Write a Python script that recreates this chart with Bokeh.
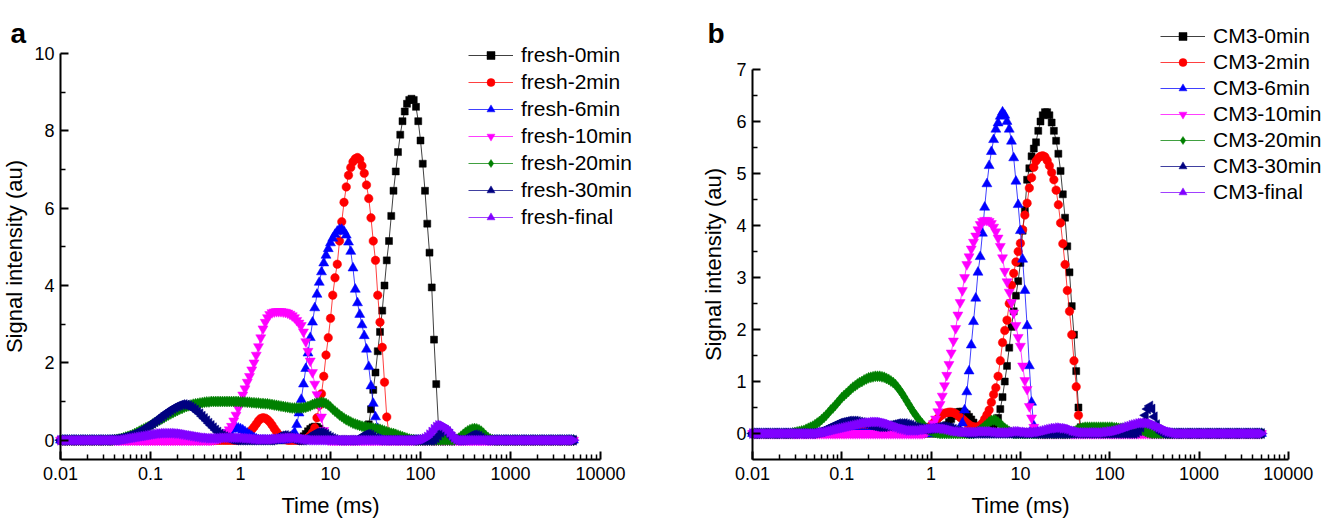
from math import pi
from bokeh.plotting import figure
from bokeh.models import FixedTicker, Label, Legend, LegendItem, Range1d
from bokeh.layouts import row
from bokeh.embed import file_html
from bokeh.resources import INLINE

FONT = "Liberation Sans"

# ---- T2 sampling grid (40 points per decade, 0.01 ... 5012 ms) ----
T2_MANTISSAS = [1.000, 1.059, 1.122, 1.189, 1.259, 1.334, 1.413, 1.496, 1.585, 1.679,
                1.778, 1.884, 1.995, 2.113, 2.239, 2.371, 2.512, 2.661, 2.818, 2.985,
                3.162, 3.350, 3.548, 3.758, 3.981, 4.217, 4.467, 4.732, 5.012, 5.309,
                5.623, 5.957, 6.310, 6.683, 7.079, 7.499, 7.943, 8.414, 8.913, 9.441]
T2_DECADES = [0.01, 0.1, 1, 10, 100, 1000]
T2_LAST = 5012.0

X_TICKS = [0.01, 0.1, 1, 10, 100, 1000, 10000]
X_TICK_LABELS = ["0.01", "0.1", "1", "10", "100", "1000", "10000"]
X_MINOR_FACTORS = [2, 3, 4, 5, 6, 7, 8, 9]

# ---- series: (start index on grid, values); signal is 0 elsewhere ----
LABELS_A = ["fresh-0min", "fresh-2min", "fresh-6min", "fresh-10min", "fresh-20min", "fresh-30min", "fresh-final"]
LABELS_B = ["CM3-0min", "CM3-2min", "CM3-6min", "CM3-10min", "CM3-20min", "CM3-30min", "CM3-final"]

FRESH_0MIN = [
    (106, [0.02, 0.05, 0.10, 0.16, 0.23, 0.29, 0.33, 0.35, 0.34, 0.30, 0.24, 0.17, 0.10, 0.05, 0.02]),
    (135, [0.02, 0.12, 0.41, 0.80, 1.30, 1.75, 2.30, 2.80, 3.35, 4.00, 4.65, 5.15, 5.80, 6.45, 6.95,
           7.45, 7.90, 8.25, 8.50, 8.70, 8.80, 8.83, 8.80, 8.62, 8.25, 7.75, 7.15, 6.45, 5.60, 4.85,
           3.95, 2.60, 1.45, 0.35, 0.05]),
]
FRESH_2MIN = [
    (80, [0.02, 0.05, 0.09, 0.14, 0.20, 0.27, 0.34, 0.42, 0.50, 0.56, 0.58, 0.57, 0.53, 0.47, 0.39,
          0.30, 0.22, 0.14, 0.08, 0.04, 0.02]),
    (108, [0.01, 0.03, 0.06, 0.12, 0.20, 0.32, 0.58, 0.90, 1.20, 1.65, 2.20, 2.65, 3.15, 3.75, 4.20,
           4.55, 5.15, 5.65, 6.15, 6.55, 6.85, 7.05, 7.20, 7.28, 7.31, 7.26, 7.10, 6.90, 6.60, 6.25,
           5.75, 5.15, 4.65, 3.75, 3.05, 2.40, 1.50, 0.60, 0.15, 0.03]),
]
FRESH_6MIN = [
    (70, [0.03, 0.06, 0.10, 0.14, 0.19, 0.24, 0.28, 0.31, 0.32, 0.31, 0.29, 0.26, 0.22, 0.18, 0.14,
          0.10, 0.06, 0.03, 0.01]),
    (101, [0.02, 0.06, 0.12, 0.20, 0.40, 0.70, 1.05, 1.45, 1.85, 2.25, 2.65, 3.05, 3.42, 3.77, 4.08,
           4.35, 4.58, 4.78, 4.95, 5.10, 5.22, 5.32, 5.40, 5.45, 5.45, 5.40, 5.30, 5.12, 4.88, 4.45,
           3.90, 3.55, 3.25, 2.98, 2.70, 2.35, 1.90, 1.40, 0.95, 0.60, 0.30, 0.12, 0.03]),
]
FRESH_10MIN = [
    (68, [0.01, 0.02, 0.04, 0.06, 0.10, 0.14, 0.20, 0.27, 0.36, 0.50, 0.65, 0.82, 1.00, 1.17, 1.33,
          1.50, 1.65, 1.82, 2.00, 2.20, 2.42, 2.65, 2.88, 3.05, 3.17, 3.25, 3.30, 3.32, 3.33, 3.33,
          3.33, 3.32, 3.31, 3.29, 3.26, 3.22, 3.17, 3.10, 3.03, 2.97, 2.80, 2.55, 2.30, 2.05, 1.75,
          1.45, 1.18, 0.90, 0.60, 0.25, 0.07, 0.01]),
]
FRESH_20MIN = [
    (24, [0.01, 0.02, 0.03, 0.04, 0.06, 0.08, 0.10, 0.12, 0.14, 0.17, 0.20, 0.23, 0.26, 0.29, 0.32,
          0.35, 0.38, 0.42, 0.45, 0.49, 0.52, 0.55, 0.58, 0.62, 0.65, 0.68, 0.71, 0.74, 0.77, 0.80,
          0.82, 0.85, 0.87, 0.89, 0.91, 0.93, 0.94, 0.95, 0.96, 0.97, 0.98, 0.99, 0.99, 1.00, 1.00,
          1.00, 1.00, 1.00, 1.00, 1.00, 1.00, 1.00, 1.00, 1.00, 1.00, 1.00, 0.99, 0.99, 0.99, 0.98,
          0.98, 0.97, 0.97, 0.96, 0.96, 0.95, 0.95, 0.94, 0.94, 0.93, 0.92, 0.91, 0.90, 0.89, 0.88,
          0.87, 0.86, 0.85, 0.84, 0.83, 0.83, 0.83, 0.83, 0.83, 0.84, 0.85, 0.87, 0.89, 0.92, 0.94,
          0.96, 0.97, 0.98, 0.97, 0.95, 0.91, 0.86, 0.80, 0.75, 0.70, 0.65, 0.61, 0.57, 0.53, 0.50,
          0.47, 0.44, 0.42, 0.40, 0.38, 0.36, 0.35, 0.34, 0.33, 0.32, 0.31, 0.30, 0.29, 0.28, 0.26,
          0.24, 0.22, 0.20, 0.18, 0.17, 0.15, 0.13, 0.11, 0.09, 0.07, 0.05, 0.03, 0.02, 0.01]),
    (176, [0.02, 0.05, 0.10, 0.15, 0.20, 0.24, 0.27, 0.29, 0.30, 0.29, 0.27, 0.23, 0.18, 0.12, 0.07,
           0.03, 0.01]),
]
FRESH_30MIN = [
    (22, [0.01, 0.02, 0.02, 0.03, 0.04, 0.05, 0.07, 0.08, 0.10, 0.12, 0.14, 0.16, 0.19, 0.22, 0.25,
          0.28, 0.32, 0.36, 0.40, 0.44, 0.48, 0.52, 0.57, 0.61, 0.66, 0.70, 0.74, 0.78, 0.82, 0.85,
          0.88, 0.90, 0.92, 0.92, 0.91, 0.89, 0.86, 0.82, 0.78, 0.73, 0.68, 0.62, 0.56, 0.50, 0.44,
          0.38, 0.32, 0.26, 0.21, 0.16, 0.12, 0.09, 0.06, 0.04, 0.02, 0.01]),
    (95, [0.02, 0.05, 0.08, 0.11, 0.12, 0.12, 0.10, 0.07, 0.04, 0.02]),
    (109, [0.02, 0.05, 0.09, 0.13, 0.17, 0.19, 0.20, 0.20, 0.18, 0.15, 0.11, 0.07, 0.04, 0.02]),
    (132, [0.02, 0.05, 0.09, 0.13, 0.15, 0.15, 0.13, 0.09, 0.05, 0.02]),
    (166, [0.02, 0.06, 0.13, 0.20, 0.25, 0.26, 0.22, 0.15, 0.08, 0.03]),
    (180, [0.02, 0.06, 0.10, 0.13, 0.14, 0.13, 0.10, 0.06, 0.02]),
]
FRESH_FINAL = [
    (28, [0.01, 0.02, 0.03, 0.04, 0.05, 0.06, 0.07, 0.08, 0.09, 0.10, 0.11, 0.12, 0.13, 0.14, 0.15,
          0.16, 0.17, 0.17, 0.18, 0.18, 0.18, 0.18, 0.18, 0.18, 0.17, 0.17, 0.16, 0.15, 0.14, 0.13,
          0.12, 0.11, 0.10, 0.09, 0.08, 0.07, 0.06, 0.06, 0.05, 0.05, 0.05, 0.05, 0.05, 0.05, 0.06,
          0.06, 0.06, 0.06, 0.06, 0.06, 0.06, 0.06, 0.06, 0.06, 0.05, 0.05, 0.04, 0.04, 0.03, 0.03,
          0.02, 0.02, 0.02, 0.02, 0.02, 0.02, 0.02, 0.03, 0.03, 0.04, 0.04, 0.05, 0.05, 0.06, 0.06,
          0.06, 0.06, 0.05, 0.05, 0.04, 0.03, 0.02, 0.02, 0.01]),
    (160, [0.01, 0.02, 0.04, 0.08, 0.14, 0.21, 0.28, 0.34, 0.38, 0.39, 0.37, 0.33, 0.27, 0.20, 0.13,
           0.07, 0.03, 0.01]),
]

CM3_0MIN = [
    (84, [0.02, 0.05, 0.10, 0.16, 0.22, 0.28, 0.34, 0.38, 0.41, 0.42, 0.42, 0.40, 0.37, 0.32, 0.27,
          0.21, 0.15, 0.10, 0.07, 0.05, 0.04, 0.04, 0.05, 0.08, 0.12, 0.20, 0.30, 0.47, 0.70, 1.00,
          1.30, 1.65, 2.05, 2.35, 2.65, 2.93, 3.28, 3.90, 4.30, 4.88, 5.10, 5.33, 5.48, 5.60, 5.82,
          6.00, 6.12, 6.18, 6.18, 6.12, 5.98, 5.82, 5.63, 5.38, 5.05, 4.60, 4.15, 3.60, 3.10, 2.45,
          1.90, 1.20, 0.50, 0.12, 0.02]),
]
CM3_2MIN = [
    (43, [0.01, 0.02, 0.03, 0.05, 0.07, 0.08, 0.10, 0.11, 0.12, 0.12, 0.13, 0.13, 0.13, 0.13, 0.13,
          0.12, 0.12, 0.11, 0.10, 0.09, 0.07, 0.06, 0.05, 0.04, 0.03, 0.02, 0.01, 0.01, 0.01, 0.01,
          0.02, 0.03, 0.04, 0.05, 0.07, 0.09, 0.12, 0.15, 0.20, 0.25, 0.29, 0.33, 0.36, 0.39, 0.40,
          0.41, 0.41, 0.40, 0.38, 0.35, 0.31, 0.28, 0.24, 0.20, 0.17, 0.14, 0.13, 0.12, 0.13, 0.15,
          0.20, 0.28, 0.36, 0.45, 0.60, 0.75, 0.88, 1.10, 1.40, 1.75, 1.98, 2.18, 2.50, 2.85, 3.08,
          3.30, 3.50, 3.66, 3.92, 4.20, 4.43, 4.72, 4.92, 5.12, 5.24, 5.30, 5.33, 5.34, 5.32, 5.25,
          5.15, 5.02, 4.88, 4.68, 4.40, 4.05, 3.65, 3.25, 2.75, 2.35, 1.90, 1.40, 0.90, 0.35, 0.08,
          0.01]),
]
CM3_6MIN = [
    (93, [0.05, 0.20, 0.45, 0.80, 1.20, 1.70, 2.15, 2.60, 3.10, 3.40, 3.85, 4.35, 4.80, 5.15, 5.42,
          5.65, 5.85, 5.97, 6.10, 6.18, 6.12, 6.00, 5.85, 5.62, 5.30, 4.85, 4.40, 3.90, 3.35, 2.75,
          2.07, 1.30, 0.60, 0.15, 0.02]),
    (176, [0.02, 0.06, 0.10, 0.06, 0.02]),
]
CM3_10MIN = [
    (77, [0.01, 0.03, 0.07, 0.12, 0.19, 0.28, 0.42, 0.56, 0.72, 0.92, 1.12, 1.33, 1.55, 1.78, 2.02,
          2.28, 2.52, 2.75, 3.00, 3.25, 3.40, 3.55, 3.68, 3.80, 3.92, 4.02, 4.08, 4.10, 4.10, 4.08,
          4.04, 3.97, 3.88, 3.76, 3.60, 3.38, 3.12, 2.92, 2.72, 2.52, 2.32, 2.08, 1.85, 1.68, 1.30,
          1.02, 0.85, 0.52, 0.30, 0.12, 0.03]),
]
CM3_20MIN = [
    (18, [0.01, 0.02, 0.03, 0.04, 0.05, 0.06, 0.08, 0.10, 0.12, 0.14, 0.17, 0.20, 0.23, 0.27, 0.31,
          0.35, 0.40, 0.45, 0.49, 0.54, 0.59, 0.64, 0.69, 0.73, 0.77, 0.81, 0.85, 0.89, 0.92, 0.95,
          0.98, 1.00, 1.03, 1.05, 1.07, 1.08, 1.09, 1.10, 1.10, 1.10, 1.09, 1.08, 1.06, 1.04, 1.01,
          0.98, 0.94, 0.89, 0.83, 0.77, 0.70, 0.63, 0.56, 0.49, 0.42, 0.36, 0.30, 0.24, 0.19, 0.14,
          0.10, 0.07, 0.05, 0.03, 0.02, 0.01]),
    (100, [0.02, 0.04, 0.07, 0.10, 0.14, 0.18, 0.22, 0.25, 0.26, 0.25, 0.22, 0.18, 0.14, 0.10, 0.07,
           0.04, 0.02]),
    (143, [0.02, 0.04, 0.06, 0.08, 0.10, 0.11, 0.12, 0.12, 0.12, 0.12, 0.12, 0.12, 0.12, 0.12, 0.12,
           0.12, 0.12, 0.12, 0.12, 0.11, 0.11, 0.10, 0.10, 0.10, 0.10, 0.11, 0.12, 0.13, 0.13, 0.12,
           0.10, 0.08, 0.06, 0.04, 0.02, 0.01]),
]
CM3_30MIN = [
    (28, [0.01, 0.02, 0.03, 0.04, 0.06, 0.08, 0.10, 0.12, 0.14, 0.16, 0.18, 0.20, 0.21, 0.22, 0.23,
          0.24, 0.24, 0.24, 0.24, 0.23, 0.22, 0.21, 0.20, 0.19, 0.17, 0.16, 0.15, 0.14, 0.13, 0.13,
          0.13, 0.13, 0.14, 0.15, 0.16, 0.17, 0.18, 0.19, 0.19, 0.19, 0.19, 0.18, 0.17, 0.16, 0.14,
          0.12, 0.11, 0.10, 0.09, 0.08, 0.08, 0.08, 0.09, 0.10, 0.11, 0.12, 0.13, 0.13, 0.13, 0.12,
          0.11, 0.10, 0.08, 0.06, 0.05, 0.03, 0.02, 0.01]),
    (172, [0.02, 0.05, 0.12, 0.22, 0.35, 0.47, 0.53, 0.47, 0.32, 0.17, 0.07, 0.02]),
]
CM3_FINAL = [
    (30, [0.01, 0.02, 0.02, 0.03, 0.04, 0.05, 0.06, 0.07, 0.08, 0.09, 0.10, 0.11, 0.12, 0.13, 0.14,
          0.15, 0.16, 0.17, 0.18, 0.19, 0.20, 0.20, 0.21, 0.21, 0.22, 0.22, 0.22, 0.22, 0.21, 0.20,
          0.19, 0.18, 0.16, 0.15, 0.13, 0.12, 0.10, 0.09, 0.08, 0.07, 0.06, 0.06, 0.06, 0.06, 0.06,
          0.06, 0.07, 0.07, 0.08, 0.09, 0.09, 0.10, 0.10, 0.10, 0.10, 0.09, 0.09, 0.08, 0.07, 0.06,
          0.05, 0.04, 0.04, 0.03, 0.03, 0.03, 0.03, 0.03, 0.03, 0.03, 0.03, 0.03, 0.04, 0.04, 0.04,
          0.04, 0.04, 0.04, 0.03, 0.03, 0.02, 0.02, 0.02, 0.02, 0.02, 0.02, 0.03, 0.03, 0.04, 0.04,
          0.04, 0.03, 0.03, 0.02, 0.02, 0.02, 0.02, 0.03, 0.03, 0.04, 0.05, 0.06, 0.07, 0.08, 0.09,
          0.10, 0.10, 0.11, 0.11, 0.10, 0.10, 0.09, 0.08, 0.06, 0.05, 0.04, 0.03, 0.02, 0.02, 0.02,
          0.02, 0.02, 0.02, 0.02, 0.02, 0.02, 0.02, 0.02, 0.03, 0.03, 0.04, 0.04, 0.05, 0.06, 0.07,
          0.08, 0.10, 0.11, 0.13, 0.14, 0.16, 0.17, 0.18, 0.19, 0.20, 0.20, 0.20, 0.20, 0.19, 0.18,
          0.16, 0.14, 0.12, 0.10, 0.08, 0.06, 0.04, 0.03, 0.02, 0.01]),
]

SERIES_A = [FRESH_0MIN, FRESH_2MIN, FRESH_6MIN, FRESH_10MIN, FRESH_20MIN, FRESH_30MIN, FRESH_FINAL]
SERIES_B = [CM3_0MIN, CM3_2MIN, CM3_6MIN, CM3_10MIN, CM3_20MIN, CM3_30MIN, CM3_FINAL]

COLORS = ["#000000", "#FF0000", "#0000FF", "#FF00FF", "#008000", "#000080", "#8000FF"]
MARKERS = [("square", 0.0, 7), ("circle", 0.0, 8.5), ("triangle", 0.0, 10),
           ("inverted_triangle", 0.0, 10), ("diamond", 0.0, 11),
           ("triangle", pi / 2, 10), ("triangle", -pi / 2, 10)]

Y_MAJOR_A = [0, 2, 4, 6, 8, 10]
Y_MINOR_A = [1, 3, 5, 7, 9]
Y_MAJOR_B = [0, 1, 2, 3, 4, 5, 6, 7]
Y_MINOR_B = [0.5, 1.5, 2.5, 3.5, 4.5, 5.5, 6.5]

# ---- layout (pixels, canvas coordinates) ----
CANVAS_H = 518
SPINE_Y = 459          # bottom spine, from canvas top


def t2_grid():
    return [round(d * m, 6) for d in T2_DECADES for m in T2_MANTISSAS if d * m <= T2_LAST * 1.0001]


def expand(segments, n):
    y = [0.0] * n
    for start, vals in segments:
        for i, v in enumerate(vals):
            if start + i < n:
                y[start + i] = v
    return y


def build_panel(letter, labels, series, y_top, y_major, y_minor, canvas_w, axis_left,
                px_per_dec, top_px, ylab_standoff, legend_loc, legend_spacing, letter_x):
    px_per_unit = (SPINE_Y - top_px) / (y_top + 0.5)
    x0 = 10 ** (-2 - axis_left / px_per_dec)
    x1 = 10 ** (-2 + (canvas_w - axis_left) / px_per_dec)
    y1 = -0.5 + SPINE_Y / px_per_unit
    y0 = -0.5 - (CANVAS_H - SPINE_Y) / px_per_unit

    p = figure(x_axis_type="log", x_range=Range1d(x0, x1), y_range=Range1d(y0, y1),
               width=canvas_w, height=CANVAS_H,
               min_border_left=0, min_border_right=0, min_border_top=0, min_border_bottom=0,
               output_backend="svg", toolbar_location=None,
               background_fill_color="white", border_fill_color="white")
    p.outline_line_color = None
    p.xgrid.visible = False
    p.ygrid.visible = False

    x = t2_grid()
    n = len(x)
    items = []
    for lab, seg, col, (mk, ang, sz) in zip(labels, series, COLORS, MARKERS):
        y = expand(seg, n)
        lr = p.line(x, y, line_color=col, line_width=1, line_alpha=0.75)
        sr = p.scatter(x, y, marker=mk, angle=ang, size=sz, fill_color=col, line_color=col,
                       line_width=0.5)
        items.append(LegendItem(label=lab, renderers=[lr, sr]))

    leg = Legend(items=items, location=legend_loc, orientation="vertical",
                 padding=0, margin=0, spacing=legend_spacing,
                 glyph_width=45, glyph_height=20, label_height=24, label_standoff=8,
                 label_text_font=FONT, label_text_font_size="21px", label_text_color="black",
                 border_line_color=None, background_fill_alpha=0)
    p.add_layout(leg)

    xa = p.xaxis[0]
    xa.ticker = FixedTicker(ticks=X_TICKS,
                            minor_ticks=[f * d for d in T2_DECADES for f in X_MINOR_FACTORS])
    xa.major_label_overrides = dict(zip(X_TICKS, X_TICK_LABELS))
    xa.axis_label = "Time (ms)"
    xa.fixed_location = -0.5
    xa.bounds = (0.01, 10000)
    ya = p.yaxis[0]
    ya.ticker = FixedTicker(ticks=y_major, minor_ticks=y_minor)
    ya.axis_label = "Signal intensity (au)"
    ya.fixed_location = 0.01
    ya.bounds = (-0.5, y_top)
    for ax in (xa, ya):
        ax.axis_line_width = 2
        ax.axis_line_color = "black"
        ax.major_tick_line_width = 2
        ax.minor_tick_line_width = 1.5
        ax.major_tick_line_color = "black"
        ax.minor_tick_line_color = "black"
        ax.major_tick_in = 8
        ax.major_tick_out = 0
        ax.minor_tick_in = 5
        ax.minor_tick_out = 0
        ax.major_label_text_font = FONT
        ax.major_label_text_font_size = "18px"
        ax.major_label_text_color = "black"
        ax.axis_label_text_font = FONT
        ax.axis_label_text_font_size = "22px"
        ax.axis_label_text_font_style = "normal"
        ax.axis_label_text_color = "black"
    xa.major_label_standoff = 7
    ya.major_label_standoff = 6
    xa.axis_label_standoff = 10
    ya.axis_label_standoff = ylab_standoff

    p.add_layout(Label(x=letter_x, y=CANVAS_H - 33, x_units="screen", y_units="screen",
                       text=letter, text_font=FONT, text_font_size="28px",
                       text_font_style="bold", text_color="black",
                       text_align="left", text_baseline="alphabetic"))
    return p


pa = build_panel("a", LABELS_A, SERIES_A, 10, Y_MAJOR_A, Y_MINOR_A,
                 canvas_w=700, axis_left=60, px_per_dec=90.0, top_px=53,
                 ylab_standoff=4, legend_loc=(468, 289), legend_spacing=3, letter_x=10)
pb = build_panel("b", LABELS_B, SERIES_B, 7, Y_MAJOR_B, Y_MINOR_B,
                 canvas_w=624, axis_left=52, px_per_dec=89.3, top_px=69,
                 ylab_standoff=7, legend_loc=(460, 314), legend_spacing=2, letter_x=7)

layout = row(pa, pb, spacing=0)
open("out.html", "w").write(file_html(layout, INLINE))
